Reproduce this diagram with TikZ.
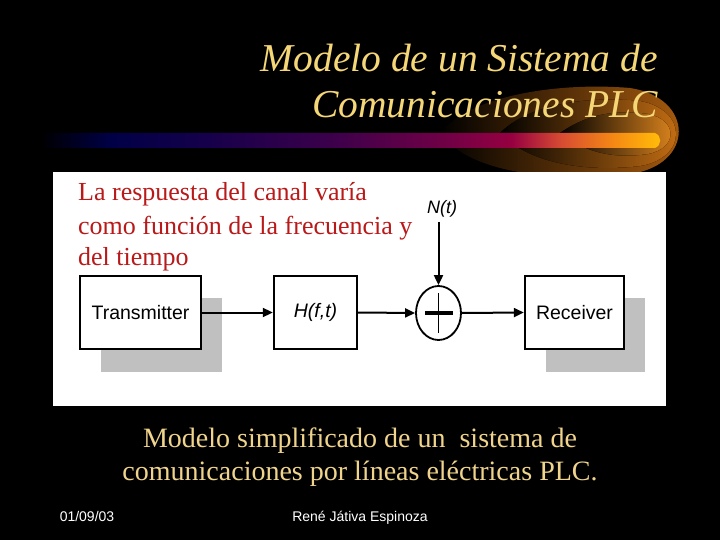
\documentclass[tikz,border=0pt]{standalone}
\usepackage{fontspec}
\setmainfont{Liberation Serif}
\newfontfamily\arialf{Liberation Sans}
\usetikzlibrary{shapes.geometric,arrows.meta}
\definecolor{titlecol}{RGB}{245,215,120}
\definecolor{capcol}{RGB}{240,212,140}
\definecolor{redtxt}{RGB}{185,25,25}
\definecolor{shadowgray}{RGB}{192,192,192}
\definecolor{bnavy}{RGB}{0,0,70}
\definecolor{bpurple1}{RGB}{20,0,75}
\definecolor{bpurple2}{RGB}{60,0,75}
\definecolor{bmag}{RGB}{115,0,70}
\definecolor{bcrim}{RGB}{150,0,65}
\definecolor{bred}{RGB}{215,75,50}
\definecolor{borange}{RGB}{245,135,20}
\definecolor{byellow}{RGB}{255,185,10}
\definecolor{glow1}{RGB}{175,95,15}
\definecolor{glow2}{RGB}{205,115,20}
\definecolor{glow3}{RGB}{225,135,30}
\pgfdeclarehorizontalshading{plcbar}{100bp}{color(0bp)=(black); color(25bp)=(black); color(30.6bp)=(bnavy); color(37.9bp)=(bpurple1); color(48.4bp)=(bpurple2); color(58bp)=(bmag); color(62.9bp)=(bcrim); color(66.9bp)=(bred); color(71bp)=(borange); color(74.6bp)=(byellow); color(100bp)=(byellow)}
\tikzset{
  blk/.style={draw=black, line width=2.4pt, fill=white, font=\arialf\fontsize{19.5}{22}\selectfont, inner sep=0pt, minimum height=73pt},
  conn/.style={line width=2pt, -{Triangle[length=10pt,width=9pt]}},
  sumnode/.style={ellipse, draw=black, line width=1.8pt, fill=white, minimum width=45pt, minimum height=54pt, inner sep=0pt},
  titletxt/.style={text=titlecol, font=\itshape\fontsize{39.5}{44}\selectfont, inner sep=0pt},
  captxt/.style={text=capcol, font=\fontsize{28}{32}\selectfont, inner sep=0pt},
  redline/.style={text=redtxt, font=\fontsize{26}{30}\selectfont, inner sep=0pt, anchor=base west},
  foot/.style={text=white, font=\arialf\fontsize{14}{16}\selectfont, inner sep=0pt, anchor=base}
}
\begin{document}
\begin{tikzpicture}[x=1pt,y=-1pt]
\useasboundingbox (0,0) rectangle (720,540);
\fill[black] (0,0) rectangle (720,540);
% glow swoosh
\fill[left color=black, right color=glow1] (440,133) .. controls (470,95) and (560,82) .. (630,88) .. controls (695,98) and (695,165) .. (630,174) .. controls (560,182) and (470,175) .. (440,133) -- cycle;
\fill[left color=black, right color=glow2] (500,133) .. controls (530,103) and (590,96) .. (640,101) .. controls (688,110) and (688,158) .. (640,166) .. controls (590,172) and (530,165) .. (500,133) -- cycle;
\fill[left color=black, right color=glow3] (560,133) .. controls (590,112) and (620,110) .. (648,114) .. controls (678,120) and (678,148) .. (648,154) .. controls (620,158) and (590,156) .. (560,133) -- cycle;
% gradient bar
\shade[shading=plcbar] (40,133) -- (655,133) .. controls (662,136) and (662,145) .. (655,148) -- (40,148) -- cycle;
% title
\node[titletxt, anchor=base east] (t1) at (658,72) {Modelo de un Sistema de};
\node[titletxt, anchor=base east] (t2) at (658,118) {Comunicaciones PLC};
% white panel
\fill[white] (53,172) rectangle (666,406);
\node[redline] (r1) at (78,201) {La respuesta del canal varía};
\node[redline] (r2) at (78,234) {como función de la frecuencia y};
\node[redline] (r3) at (78,265) {del tiempo};
% shadows
\fill[shadowgray] (101,298) rectangle (222,372);
\fill[shadowgray] (546,298) rectangle (645,372);
% blocks
\node[blk, minimum width=121pt] (tx) at (140.5,312.5) {Transmitter};
\node[blk, minimum width=83pt] (h) at (315.5,312.5) {\itshape H(f,t)};
\node[blk, minimum width=99pt] (rx) at (574.5,312.5) {Receiver};
\node[sumnode] (sum) at (438.5,313) {};
\draw[line width=3.2pt] (425,313) -- (453,313);
\draw[line width=1.5pt] (438.5,293) -- (438.5,333);
\node[font=\arialf\itshape\fontsize{18}{20}\selectfont, inner sep=0pt] (n) at (442,209) {N(t)};
\coordinate (nstart) at (438.5,222);
\draw[conn] (tx.east) -- (h.west);
\draw[conn] (h.east) -- (sum.west);
\draw[conn] (sum.east) -- (rx.west);
\draw[conn] (nstart) -- (sum.north);
% caption
\node[captxt, anchor=base] (c1) at (360,447) {Modelo simplificado de un\ \ sistema de};
\node[captxt, anchor=base] (c2) at (360,480) {comunicaciones por líneas eléctricas PLC.};
% footer
\node[foot] (d) at (87,521) {01/09/03};
\node[foot] (a) at (360,521) {René Játiva Espinoza};
\end{tikzpicture}
\end{document}
